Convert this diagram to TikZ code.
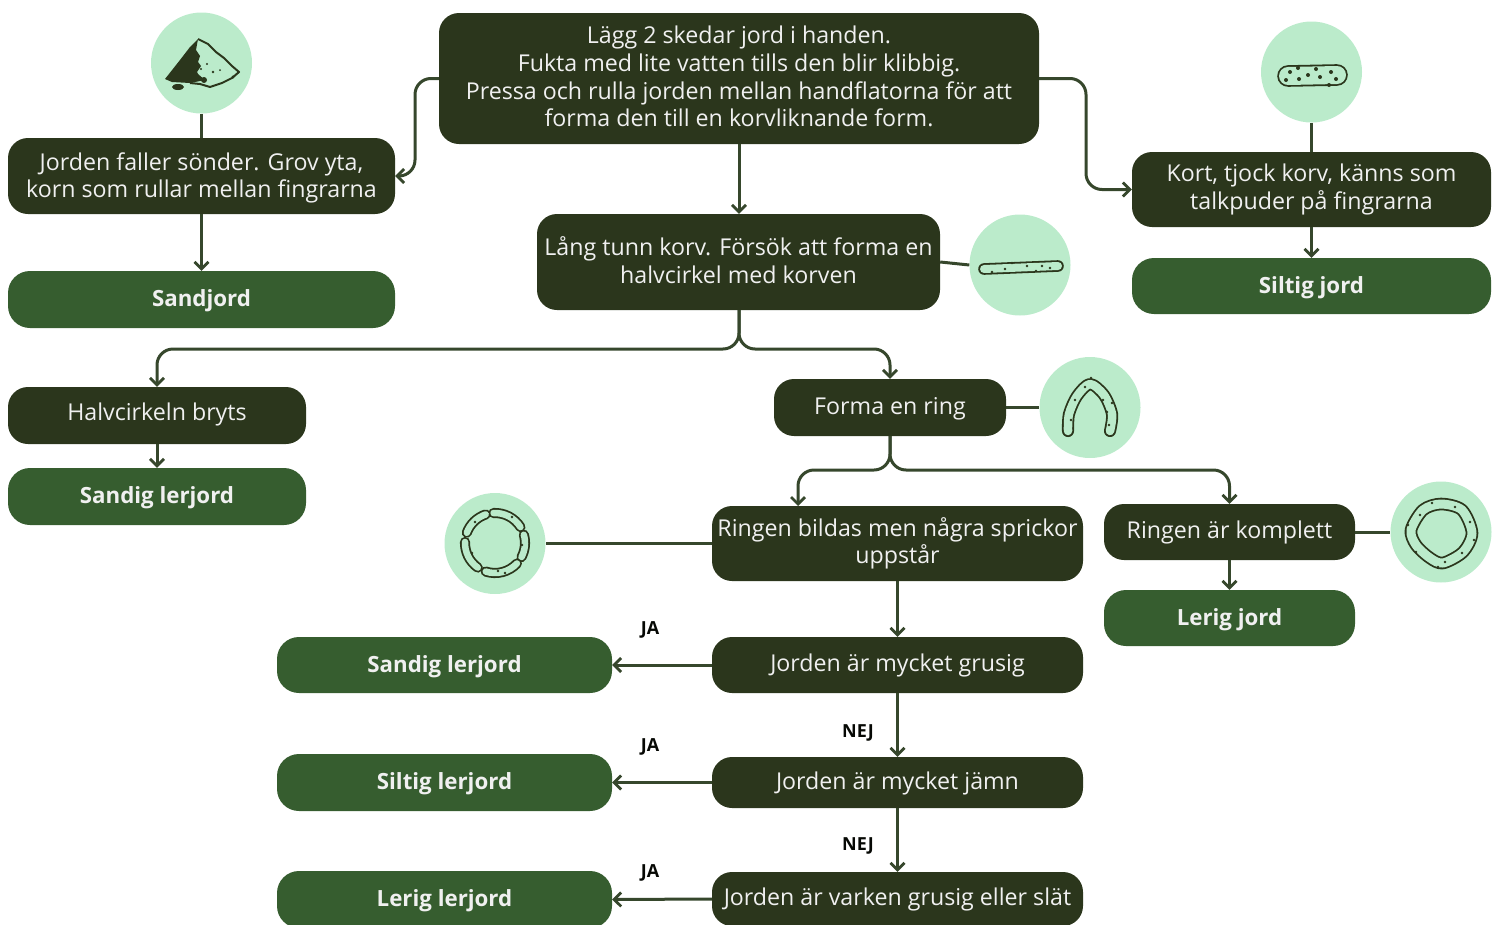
\documentclass[tikz,border=0pt]{standalone}
\usepackage{fontspec}
\setmainfont{Open Sans}
\usetikzlibrary{arrows.meta}
\definecolor{darkbox}{HTML}{2B361C}
\definecolor{greenbox}{HTML}{365D2F}
\definecolor{mintcirc}{HTML}{BBEBCB}
\definecolor{flowline}{HTML}{36472C}
\tikzset{
  stepbox/.style={shape=rectangle, rounded corners=20pt, fill=darkbox, text=white!94!black, align=center, inner sep=0pt,
    font=\fontsize{23.2}{27.6}\selectfont},
  oneline/.style={text height=19pt, text depth=6pt},
  soilbox/.style={stepbox, text height=20pt, text depth=6pt, fill=greenbox, rounded corners=22pt, font=\fontsize{22.3}{27}\selectfont\bfseries},
  iconcirc/.style={shape=circle, fill=mintcirc, minimum size=101pt, inner sep=0pt},
  answer/.style={font=\fontsize{18}{20}\selectfont\bfseries, text=black!85!darkbox},
  flow/.style={draw=flowline, line width=3pt, rounded corners=16pt, -{Straight Barb[length=7pt,width=14pt,line width=2.8pt]}},
  link/.style={draw=flowline, line width=3pt},
  sausage/.style={draw=darkbox, line width=1.8pt, double=mintcirc, line cap=round, line join=round},
  speck/.style={fill=darkbox}
}
\begin{document}
\begin{tikzpicture}[x=1pt,y=-1pt]
  \path[clip,use as bounding box] (0,0) rectangle (1499,924);

  % icons
  \path (201.5,63) node [iconcirc] (pilecirc) {}
        (1311.5,72) node [iconcirc] (shortcirc) {}
        (1020,265) node [iconcirc] (longcirc) {}
        (1090,407.5) node [iconcirc] (archcirc) {}
        (495,543.5) node [iconcirc] (crackcirc) {}
        (1441,532) node [iconcirc] (ringcirc) {}
  ;

  % question boxes
  \path (739,78.5) node [stepbox, minimum width=600pt, minimum height=131pt, text depth=4pt] (top)
          {Lägg 2 skedar jord i handen.\\Fukta med lite vatten tills den blir klibbig.\\Pressa och rulla jorden mellan handflatorna för att\\forma den till en korvliknande form.}
        (201.5,176) node [stepbox, minimum width=387pt, minimum height=76pt, text height=49pt] (crumbles)
          {Jorden faller sönder. Grov yta,\\korn som rullar mellan fingrarna}
        (1311.5,189.5) node [stepbox, minimum width=359pt, minimum height=75pt] (short)
          {Kort, tjock korv, känns som\\talkpuder på fingrarna}
        (738.5,262) node [stepbox, minimum width=403pt, minimum height=96pt, text depth=4pt] (long)
          {Lång tunn korv. Försök att forma en\\halvcirkel med korven}
        (157,415.5) node [stepbox, oneline, text depth=9pt, minimum width=298pt, minimum height=57pt] (breaks) {Halvcirkeln bryts}
        (890,407.5) node [stepbox, oneline, minimum width=232pt, minimum height=57pt] (ring) {Forma en ring}
        (897.5,543.5) node [stepbox, minimum width=371pt, minimum height=75pt] (cracks)
          {Ringen bildas men några sprickor\\uppstår}
        (1229.5,532) node [stepbox, oneline, minimum width=251pt, minimum height=56pt] (complete) {Ringen är komplett}
        (897.5,665) node [stepbox, oneline, minimum width=371pt, minimum height=56pt] (gritty) {Jorden är mycket grusig}
        (897.5,782.5) node [stepbox, oneline, minimum width=371pt, minimum height=51pt] (even) {Jorden är mycket jämn}
        (897.5,899) node [stepbox, oneline, minimum width=371pt, minimum height=54pt] (neither) {Jorden är varken grusig eller slät}
  ;

  % soil boxes
  \path (201.5,299.5) node [soilbox, minimum width=387pt, minimum height=57pt] (sand) {Sandjord}
        (1311.5,286) node [soilbox, minimum width=359pt, minimum height=56pt] (silt) {Siltig jord}
        (157,496.5) node [soilbox, minimum width=298pt, minimum height=57pt] (sandyloam) {Sandig lerjord}
        (1229.5,618) node [soilbox, minimum width=251pt, minimum height=56pt] (clay) {Lerig jord}
        (444.5,665) node [soilbox, minimum width=335pt, minimum height=56pt] (sandyclay) {Sandig lerjord}
        (444.5,782.5) node [soilbox, minimum width=335pt, minimum height=57pt] (siltyclay) {Siltig lerjord}
        (444.5,899.5) node [soilbox, minimum width=335pt, minimum height=57pt] (loamyclay) {Lerig lerjord}
  ;

  % connectors
  \coordinate (leftbend) at (415,78.5);
  \coordinate (rightbend) at (1086,78.5);
  \coordinate (longsplit) at (739,349);
  \coordinate (ringsplit) at (890,470);
  \coordinate (cracksin) at (798,506);
  \draw[flow] (top.west) -- (leftbend) |- (crumbles.east);
  \draw[flow] (top.east) -- (rightbend) |- (short.west);
  \draw[flow] (top.south) -- (long.north -| top.south);
  \draw[flow] (crumbles.south) -- (sand.north);
  \draw[flow] (short.south) -- (silt.north);
  \draw[flow] (long.south -| top.south) -- (longsplit) -| (breaks.north);
  \draw[flow] (long.south -| top.south) -- (longsplit) -| (ring.north);
  \draw[flow] (breaks.south) -- (sandyloam.north);
  \draw[flow] (ring.south) -- (ringsplit) -| (cracksin);
  \draw[flow] (ring.south) -- (ringsplit) -| (complete.north);
  \draw[flow] (complete.south) -- (clay.north);
  \draw[flow] (cracks.south) -- (gritty.north);
  \draw[flow] (gritty.south) -- (even.north);
  \draw[flow] (even.south) -- (neither.north);
  \draw[flow] (gritty.west) -- (sandyclay.east);
  \draw[flow] (even.west) -- (siltyclay.east);
  \draw[flow] (neither.west) -- (loamyclay.east);
  \draw[link] (pilecirc.south) -- (crumbles.north);
  \draw[link] (shortcirc.south) -- (short.north);
  \draw[link] (long.east) -- (longcirc.west);
  \draw[link] (ring.east) -- (archcirc.west);
  \draw[link] (cracks.west) -- (crackcirc.east);
  \draw[link] (complete.east) -- (ringcirc.west);

  % answers
  \path (650,630) node [answer] (ja1) {JA}
        (650,747) node [answer] (ja2) {JA}
        (650,873) node [answer] (ja3) {JA}
        (858,733) node [answer] (nej1) {NEJ}
        (858,846) node [answer] (nej2) {NEJ}
  ;

  % pile
  \fill[darkbox] (198,39) -- (190,47) -- (180,60) -- (165,79) -- (172,82) -- (190,83) -- (205,80) -- (198,74) -- (197,72) -- (201,66) -- (198,62) -- (200,56) -- (196,50) -- cycle;
  \draw[darkbox, line width=2pt, line join=round] (198,39) -- (208,44) -- (216,52) -- (224,58) -- (232,66) -- (239,72) -- (232,78) -- (222,83) -- (210,87) -- (200,84) -- (190,83);
  \fill[speck] (178,87) ellipse (6 and 3);
  \foreach \dx/\dy/\dr in {204/80/3, 207/64/1.2, 213/72/1.4, 233/77/1.6, 201/69/1.2, 220/70/1}
    \fill[speck] (\dx,\dy) circle (\dr);

  % short sausage
  \draw[sausage, double distance=18pt] (1288,76) -- (1337,75);
  \foreach \dx/\dy in {1290/72, 1299/79, 1308/75, 1320/77, 1331/72, 1336/79, 1316/69, 1286/80, 1298/68, 1329/85}
    \fill[speck] (\dx,\dy) circle (2);

  % long sausage
  \draw[sausage, double distance=8pt] (984,269) -- (1058,266);
  \foreach \dx/\dy in {1005/269, 1012/263, 1027/266, 1042/266, 1050/268, 992/272, 1036/271}
    \fill[speck] (\dx,\dy) circle (1.4);

  % arch
  \draw[sausage, double distance=8.5pt] plot [smooth] coordinates {(1068,431) (1069,414) (1077,396) (1090,384) (1104,395) (1112,414) (1110,431)};
  \foreach \dx/\dy in {1075/400, 1071/420, 1107/412, 1091/378, 1103/400, 1109/425, 1085/387, 1112/403}
    \fill[speck] (\dx,\dy) circle (1.4);

  % cracked ring
  \foreach \from/\to in {-93/-32, -16/28, 43/108, 125/182, 200/252}
    \draw[sausage, double distance=6.5pt] plot [smooth, domain=\from:\to, samples=9] ({495+30*cos(\x)},{543+30*sin(\x)});
  \foreach \dx/\dy in {512/517, 522/545, 498/571, 472/553, 475/522, 505/573}
    \fill[speck] (\dx,\dy) circle (1.4);

  % complete ring
  \draw[sausage, double distance=9pt] plot [smooth cycle] coordinates {(1411,530) (1423,510) (1441,504) (1462,510) (1472,533) (1463,552) (1443,563) (1430,558) (1416,545)};
  \foreach \dx/\dy in {1432/503, 1455/507, 1470/522, 1474/540, 1462/553, 1438/567, 1416/552, 1408/525, 1445/562, 1420/515}
    \fill[speck] (\dx,\dy) circle (1.4);
\end{tikzpicture}
\end{document}
